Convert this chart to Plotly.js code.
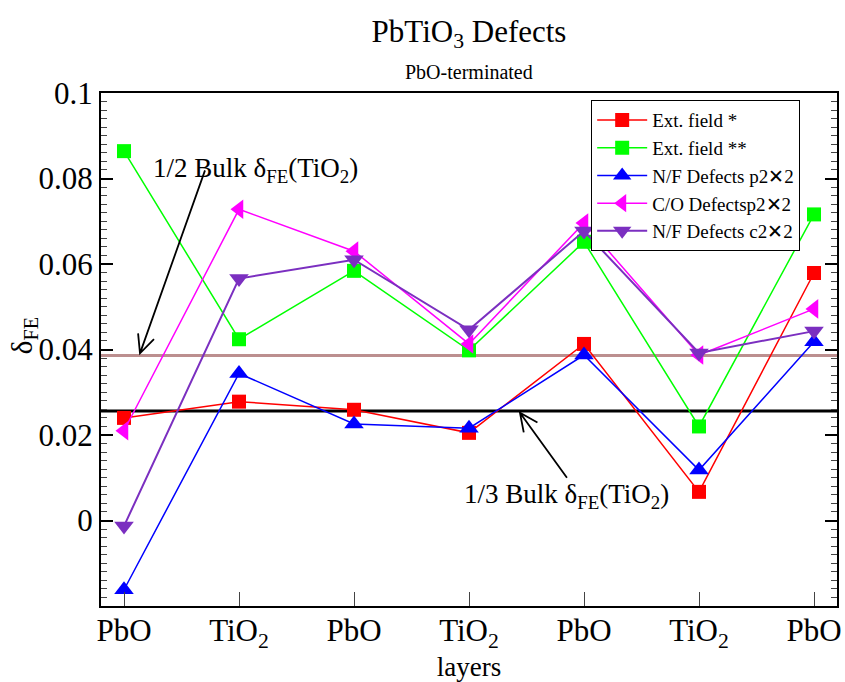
<!DOCTYPE html>
<html>
<head>
<meta charset="utf-8">
<script src="https://cdn.plot.ly/plotly-3.0.1.min.js"></script>
<style>html,body{margin:0;padding:0;background:#fff;}</style>
</head>
<body>
<div id="chart" style="width:845px;height:682px;"></div>
<script>
// Layer positions and labels
const layerPos = [0, 1, 2, 3, 4, 5, 6];
const layerLabels = ["PbO", "TiO<sub>2</sub>", "PbO", "TiO<sub>2</sub>", "PbO", "TiO<sub>2</sub>", "PbO"];

// Series values (delta_FE)
const extField1 = [0.0240, 0.0278, 0.0259, 0.0205, 0.0413, 0.0067, 0.0579];
const extField2 = [0.0864, 0.0424, 0.0584, 0.0398, 0.0652, 0.0220, 0.0716];
const nfP2x2 = [-0.0162, 0.0344, 0.0226, 0.0216, 0.0387, 0.0118, 0.0418];
const coP2x2 = [0.0210, 0.0728, 0.0630, 0.0413, 0.0696, 0.0387, 0.0495];
const nfC2x2 = [-0.0013, 0.0566, 0.0610, 0.0446, 0.0677, 0.0392, 0.0443];

// Reference levels
const halfBulk = 0.0386;
const thirdBulk = 0.0256;

const yTicks = [0, 0.02, 0.04, 0.06, 0.08, 0.1];
const yTickText = ["0", "0.02", "0.04", "0.06", "0.08", "0.1"];

const serif = "Liberation Serif, Times New Roman, serif";

function tr(name, y, color, symbol, size, width) {
  return {
    x: layerPos, y: y, name: name, type: "scatter", mode: "lines+markers",
    line: {color: color, width: width},
    marker: {color: color, symbol: symbol, size: size}
  };
}

const data = [
  tr("Ext. field *", extField1, "#ff0000", "square", 14, 1.5),
  tr("Ext. field **", extField2, "#00ff00", "square", 14, 1.5),
  tr("N/F Defects p2✕2", nfP2x2, "#0000ff", "triangle-up", 17, 1.5),
  tr("C/O Defectsp2✕2", coP2x2, "#ff00ff", "triangle-left", 17, 1.5),
  tr("N/F Defects c2✕2", nfC2x2, "#7b2fc0", "triangle-down", 17, 2)
];

function arrowShape(xa, ya, path) {
  return {type: "path", xref: "x", yref: "y", xsizemode: "pixel", ysizemode: "pixel",
          xanchor: xa, yanchor: ya, path: path, line: {color: "#000", width: 1.8}};
}

const layout = {
  width: 845, height: 682,
  paper_bgcolor: "#fff", plot_bgcolor: "#fff",
  margin: {l: 101, r: 8, t: 93, b: 76},
  font: {family: serif, color: "#000"},
  title: {
    text: "PbTiO<sub>3</sub> Defects",
    font: {family: serif, size: 31, color: "#000"},
    x: 0.5, xanchor: "center", xref: "paper", y: 0.955, yref: "container", yanchor: "middle"
  },
  showlegend: true,
  legend: {
    x: 0.666, y: 0.986, xanchor: "left", yanchor: "top",
    bgcolor: "#fff", bordercolor: "#000", borderwidth: 1,
    font: {family: "Liberation Serif", size: 19, color: "#000"},
    itemwidth: 50, tracegroupgap: 0
  },
  xaxis: {
    range: [-0.2, 6.2],
    tickmode: "array", tickvals: layerPos, ticktext: layerLabels,
    ticks: "inside", ticklen: 14, tickwidth: 1, tickcolor: "#444",
    ticklabelstandoff: -4,
    showline: true, linecolor: "#000", linewidth: 2, mirror: true,
    showgrid: false, zeroline: false,
    tickfont: {family: serif, size: 31, color: "#000"},
    title: {text: "layers", font: {family: serif, size: 27, color: "#000"}, standoff: 0}
  },
  yaxis: {
    range: [-0.02, 0.1],
    tickmode: "array", tickvals: yTicks, ticktext: yTickText,
    ticks: "inside", ticklen: 12, tickwidth: 1.5, tickcolor: "#000",
    minor: {tick0: 0, dtick: 0.002, ticks: "inside", ticklen: 6, tickwidth: 1, tickcolor: "#444", showgrid: false},
    showline: true, linecolor: "#000", linewidth: 2, mirror: "allticks",
    showgrid: false, zeroline: false,
    tickfont: {family: serif, size: 31, color: "#000"}
  },
  shapes: [
    {type: "line", xref: "paper", x0: 0, x1: 1, yref: "y", y0: halfBulk, y1: halfBulk,
     line: {color: "#bc8f8f", width: 3}, layer: "below"},
    {type: "line", xref: "paper", x0: 0, x1: 1, yref: "y", y0: thirdBulk, y1: thirdBulk,
     line: {color: "#000", width: 3}, layer: "below"},
    arrowShape(0.139, 0.0391, "M0,0 L65,183 M-1.9,19.9 L0,0 L14,14.2"),
    arrowShape(3.443, 0.0252, "M0,0 L47,-65 M17.5,-9.7 L0,0 L3.8,-19.6")
  ],
  annotations: [
    {x: 0.5, y: 1.041, xref: "paper", yref: "paper", xanchor: "center", yanchor: "middle", showarrow: false,
     text: "PbO-terminated", font: {family: serif, size: 20, color: "#000"}},
    {x: -0.1046, y: 0.526, xref: "paper", yref: "paper", xanchor: "center", yanchor: "middle", showarrow: false,
     textangle: -90, text: "δ<sub>FE</sub>", font: {family: serif, size: 29, color: "#000"}},
    {x: 1.14, y: 0.0819, xref: "x", yref: "y", showarrow: false,
     text: "1/2 Bulk δ<sub>FE</sub>(TiO<sub>2</sub>)", font: {family: serif, size: 27, color: "#000"}},
    {x: 3.852, y: 0.0057, xref: "x", yref: "y", showarrow: false,
     text: "1/3 Bulk δ<sub>FE</sub>(TiO<sub>2</sub>)", font: {family: serif, size: 27, color: "#000"}}
  ]
};

Plotly.newPlot("chart", data, layout, {displayModeBar: false});
</script>
</body>
</html>
